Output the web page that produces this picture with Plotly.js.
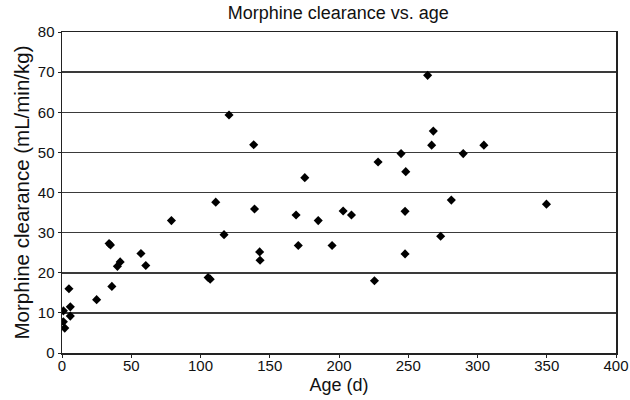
<!DOCTYPE html>
<html>
<head>
<meta charset="utf-8">
<script src="https://cdn.plot.ly/plotly-3.0.1.min.js"></script>
<style>html,body{margin:0;padding:0;background:#fff;}#chart{width:630px;height:400px;}</style>
</head>
<body>
<div id="chart"></div>
<script>
const ageDays = [1, 1, 2, 5, 6, 6, 25, 34, 35, 36, 40, 42, 57, 60.5, 79, 105.5, 107, 111, 117, 120.6,
  138.4, 139, 142.7, 143, 169, 170.6, 175.3, 185, 195, 203, 209, 225.6, 228.2, 244.8, 247.7, 247.7,
  248.2, 264, 266.9, 268.1, 273.4, 281.1, 289.7, 304.6, 349.8];
const clearance = [10.5, 7.8, 6.2, 16, 11.5, 9.2, 13.3, 27.3, 26.9, 16.6, 21.6, 22.7, 24.8, 21.8, 33, 18.8, 18.4, 37.6, 29.5, 59.3,
  51.9, 35.9, 25.2, 23.1, 34.4, 26.8, 43.7, 33, 26.8, 35.4, 34.4, 18, 47.6, 49.7, 24.7, 35.3,
  45.2, 69.2, 51.8, 55.3, 29.1, 38.1, 49.7, 51.8, 37.1];
const xTicks = [0, 50, 100, 150, 200, 250, 300, 350, 400];
const yTicks = [0, 10, 20, 30, 40, 50, 60, 70, 80];

const font = 'Liberation Sans, Arial, Helvetica, sans-serif';
Plotly.newPlot('chart', [{
  x: ageDays, y: clearance, type: 'scatter', mode: 'markers',
  marker: {symbol: 'diamond', size: 7, color: '#000'}
}], {
  width: 630, height: 400,
  margin: {l: 62, r: 14, t: 32, b: 47},
  paper_bgcolor: '#fff', plot_bgcolor: '#fff',
  showlegend: false,
  title: {text: 'Morphine clearance vs. age', font: {family: font, size: 18, color: '#111'}, x: 0.537, xanchor: 'center', y: 0.984, yanchor: 'top'},
  xaxis: {
    range: [0, 400], tickvals: xTicks, ticktext: xTicks.map(String),
    showgrid: false, zeroline: false, showline: true, linecolor: '#222', linewidth: 1.5, mirror: true,
    ticks: 'outside', ticklen: 3, tickcolor: '#222', ticklabelstandoff: -5,
    tickfont: {family: font, size: 15, color: '#111'},
    title: {text: 'Age (d)', font: {family: font, size: 18, color: '#111'}, standoff: 6}
  },
  yaxis: {
    range: [0, 80], tickvals: yTicks, ticktext: yTicks.map(String),
    showgrid: true, gridcolor: '#3a3a3a', gridwidth: 1.5, zeroline: false,
    showline: true, linecolor: '#222', linewidth: 1.5, mirror: true,
    ticks: 'outside', ticklen: 3, tickcolor: '#222',
    tickfont: {family: font, size: 15, color: '#111'},
    title: {text: 'Morphine clearance (mL/min/kg)', font: {family: font, size: 20.5, color: '#111'}, standoff: 2}
  }
}, {displayModeBar: false, staticPlot: true});
</script>
</body>
</html>
